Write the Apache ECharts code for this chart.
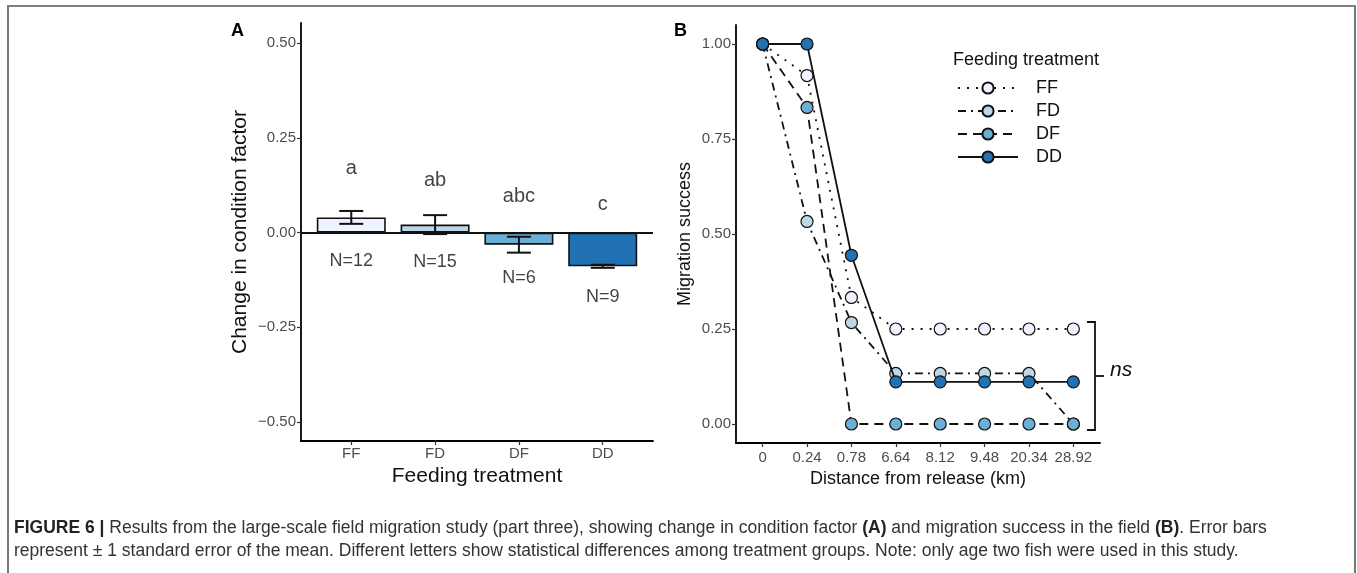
<!DOCTYPE html>
<html>
<head>
<meta charset="utf-8">
<script src="https://cdn.jsdelivr.net/npm/echarts@6/dist/echarts.min.js"></script>
<style>
  html, body { margin: 0; padding: 0; background: #fff; }
  #main { width: 1357px; height: 573px; }
</style>
</head>
<body>
<div id="main"></div>
<script>
// panel A data
var treatments = ['FF', 'FD', 'DF', 'DD'];
var conditionMean = [0.040, 0.021, -0.032, -0.089];
var conditionSE = [0.017, 0.025, 0.021, 0.004];
var sigLetters = ['a', 'ab', 'abc', 'c'];
var letterY = [0.170, 0.137, 0.095, 0.074];
var sampleN = [12, 15, 6, 9];
var nLabelY = [-0.074, -0.079, -0.121, -0.171];
var barColors = ['#eff3ff', '#bdd7e7', '#6baed6', '#2171b5'];

// panel B data
var distances = ['0', '0.24', '0.78', '6.64', '8.12', '9.48', '20.34', '28.92'];
var successFF = [1.00, 0.917, 0.333, 0.25, 0.25, 0.25, 0.25, 0.25];
var successFD = [1.00, 0.533, 0.267, 0.133, 0.133, 0.133, 0.133, 0.00];
var successDF = [1.00, 0.833, 0.00, 0.00, 0.00, 0.00, 0.00, 0.00];
var successDD = [1.00, 1.00, 0.444, 0.111, 0.111, 0.111, 0.111, 0.111];
var lineDash = [[2, 7], [8, 5, 2, 5], [9, 6], 'solid'];

var font = 'Liberation Sans, Arial, Helvetica, sans-serif';
var captionFont = 'Liberation Sans Narrow, Arial Narrow, sans-serif';
var myChart = echarts.init(document.getElementById('main'));

function minus(v, d) {
    var s = Math.abs(v).toFixed(d);
    return v < 0 ? '\u2212' + s : s;
}

var axisLineStyle = { color: '#000', width: 1.8 };
var tickStyle = { color: '#333', width: 1.2 };

var successSeries = [successFF, successFD, successDF, successDD];
var lineSeries = treatments.map(function (t, k) {
    return {
        name: t,
        type: 'line',
        xAxisIndex: 1,
        yAxisIndex: 1,
        data: successSeries[k].map(function (v, i) { return [i + 1, v]; }),
        symbol: 'circle',
        symbolSize: 12,
        z: 3 + k,
        lineStyle: { color: '#111', width: 1.8, type: lineDash[k] },
        itemStyle: { color: barColors[k], borderColor: '#111', borderWidth: 1.2 }
    };
});

function labelSeries(yVals, texts, size) {
    return {
        type: 'scatter',
        xAxisIndex: 0, yAxisIndex: 0,
        symbolSize: 1,
        silent: true,
        itemStyle: { color: 'rgba(0,0,0,0)' },
        data: yVals.map(function (y, i) { return [i + 1, y]; }),
        label: {
            show: true, position: 'inside',
            formatter: function (p) { return texts[p.dataIndex]; },
            color: '#111', fontSize: size, fontFamily: font
        },
        labelLayout: { hideOverlap: false }
    };
}

var option = {
    animation: false,
    grid: [
        { left: 301, top: 23, width: 352, height: 418 },
        { left: 736, top: 25, width: 364, height: 418 }
    ],
    xAxis: [
        {
            type: 'value', gridIndex: 0, min: 0.4, max: 4.6,
            splitLine: { show: false },
            axisLine: { onZero: false, lineStyle: axisLineStyle },
            axisTick: { customValues: [1, 2, 3, 4], length: 4, lineStyle: tickStyle },
            axisLabel: {
                customValues: [1, 2, 3, 4], margin: 5,
                formatter: function (v) { return treatments[Math.round(v) - 1]; },
                color: '#4d4d4d', fontSize: 15, fontFamily: font
            },
            name: 'Feeding treatment', nameLocation: 'middle', nameGap: 25,
            nameTextStyle: { color: '#111', fontSize: 21, fontFamily: font }
        },
        {
            type: 'value', gridIndex: 1, min: 0.4, max: 8.6,
            splitLine: { show: false },
            axisLine: { onZero: false, lineStyle: axisLineStyle },
            axisTick: { customValues: [1, 2, 3, 4, 5, 6, 7, 8], length: 4, lineStyle: tickStyle },
            axisLabel: {
                customValues: [1, 2, 3, 4, 5, 6, 7, 8], margin: 7,
                formatter: function (v) { return distances[Math.round(v) - 1]; },
                color: '#4d4d4d', fontSize: 15, fontFamily: font
            },
            name: 'Distance from release (km)', nameLocation: 'middle', nameGap: 23,
            nameTextStyle: { color: '#111', fontSize: 18, fontFamily: font }
        }
    ],
    yAxis: [
        {
            type: 'value', gridIndex: 0, min: -0.55, max: 0.553,
            splitLine: { show: false },
            axisLine: { onZero: false, lineStyle: axisLineStyle },
            axisTick: { customValues: [-0.5, -0.25, 0, 0.25, 0.5], length: 4, lineStyle: tickStyle },
            axisLabel: {
                customValues: [-0.5, -0.25, 0, 0.25, 0.5], margin: 5,
                formatter: function (v) { return minus(v, 2); },
                color: '#4d4d4d', fontSize: 15, fontFamily: font
            },
            name: 'Change in condition factor', nameLocation: 'middle', nameGap: 50,
            nameTextStyle: { color: '#111', fontSize: 21, fontFamily: font }
        },
        {
            type: 'value', gridIndex: 1, min: -0.05, max: 1.05,
            splitLine: { show: false },
            axisLine: { onZero: false, lineStyle: axisLineStyle },
            axisTick: { customValues: [0, 0.25, 0.5, 0.75, 1], length: 4, lineStyle: tickStyle },
            axisLabel: {
                customValues: [0, 0.25, 0.5, 0.75, 1], margin: 5,
                formatter: function (v) { return v.toFixed(2); },
                color: '#4d4d4d', fontSize: 15, fontFamily: font
            },
            name: 'Migration success', nameLocation: 'middle', nameGap: 42,
            nameTextStyle: { color: '#111', fontSize: 18, fontFamily: font }
        }
    ],
    legend: {
        data: treatments,
        orient: 'vertical',
        left: 952, top: 74,
        itemWidth: 60, itemHeight: 14, itemGap: 5,
        textStyle: { color: '#111', fontSize: 18, fontFamily: font, padding: [0, 0, 0, 13] }
    },
    series: [
        {
            type: 'bar',
            xAxisIndex: 0, yAxisIndex: 0,
            barWidth: 69,
            data: conditionMean.map(function (v, i) {
                return { value: [i + 1, v], itemStyle: { color: barColors[i] } };
            }),
            itemStyle: { borderColor: '#111', borderWidth: 1.6 },
            markLine: {
                silent: true, symbol: 'none',
                label: { show: false },
                lineStyle: { color: '#111', type: 'solid', width: 1.8 },
                data: [{ yAxis: 0 }]
            }
        },
        {
            type: 'custom',
            xAxisIndex: 0, yAxisIndex: 0,
            data: conditionMean.map(function (v, i) {
                return [i + 1, v - conditionSE[i], v + conditionSE[i]];
            }),
            z: 5,
            renderItem: function (params, api) {
                var lo = api.coord([api.value(0), api.value(1)]);
                var hi = api.coord([api.value(0), api.value(2)]);
                var half = 12;
                var st = { stroke: '#111', lineWidth: 2 };
                return {
                    type: 'group',
                    children: [
                        { type: 'line', shape: { x1: lo[0], y1: lo[1], x2: hi[0], y2: hi[1] }, style: st },
                        { type: 'line', shape: { x1: lo[0] - half, y1: lo[1], x2: lo[0] + half, y2: lo[1] }, style: st },
                        { type: 'line', shape: { x1: hi[0] - half, y1: hi[1], x2: hi[0] + half, y2: hi[1] }, style: st }
                    ]
                };
            }
        },
        labelSeries(letterY, sigLetters, 20),
        labelSeries(nLabelY, sampleN.map(function (n) { return 'N=' + n; }), 18)
    ].concat(lineSeries),
    graphic: [
        // figure frame
        { type: 'line', shape: { x1: 7, y1: 6, x2: 1356, y2: 6 }, style: { stroke: '#555', lineWidth: 1.5 } },
        { type: 'line', shape: { x1: 8, y1: 6, x2: 8, y2: 573 }, style: { stroke: '#777', lineWidth: 2 } },
        { type: 'line', shape: { x1: 1355, y1: 6, x2: 1355, y2: 573 }, style: { stroke: '#777', lineWidth: 2 } },
        // panel letters
        { type: 'text', style: { x: 231, y: 22, text: 'A', fontSize: 18, fontWeight: 'bold', fontFamily: font, fill: '#000' } },
        { type: 'text', style: { x: 674, y: 22, text: 'B', fontSize: 18, fontWeight: 'bold', fontFamily: font, fill: '#000' } },
        // legend title
        { type: 'text', style: { x: 953, y: 51, text: 'Feeding treatment', fontSize: 18, fontFamily: font, fill: '#111' } },
        // ns bracket
        {
            type: 'polyline',
            shape: { points: [[1087, 322], [1095, 322], [1095, 430], [1087, 430]] },
            style: { stroke: '#111', lineWidth: 1.8, fill: null }
        },
        { type: 'line', shape: { x1: 1095, y1: 376, x2: 1104, y2: 376 }, style: { stroke: '#111', lineWidth: 1.8 } },
        { type: 'text', style: { x: 1110, y: 360, text: 'ns', fontSize: 21, fontStyle: 'italic', fontFamily: font, fill: '#111' } },
        // caption
        {
            type: 'text',
            style: {
                x: 14, y: 517,
                text: '{b|FIGURE 6 |} Results from the large-scale field migration study (part three), showing change in condition factor {b|(A)} and migration success in the field {b|(B)}. Error bars\n' +
                      'represent \u00b1 1 standard error of the mean. Different letters show statistical differences among treatment groups. Note: only age two fish were used in this study.',
                fontSize: 17.5, lineHeight: 23,
                fontFamily: captionFont,
                fill: '#333',
                rich: { b: { fontWeight: 'bold', fontSize: 17.5, lineHeight: 23, fontFamily: captionFont, fill: '#222' } }
            }
        }
    ]
};

myChart.setOption(option);
</script>
</body>
</html>
